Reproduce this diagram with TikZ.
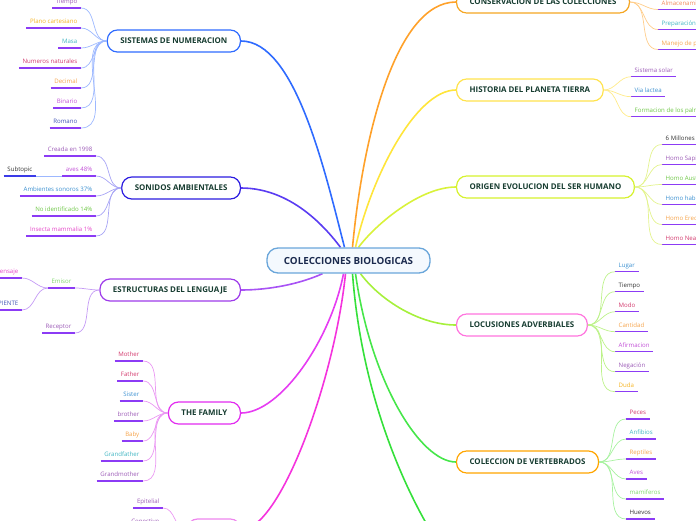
\documentclass[tikz,border=0pt]{standalone}
\usepackage{fontspec}
\setmainfont{Open Sans}
\usetikzlibrary{positioning}
\pgfdeclarelayer{background}
\pgfsetlayers{background,main}

\definecolor{rootline}{HTML}{6AA6DA}
\definecolor{rootfill}{HTML}{F4F9FE}
\definecolor{roottext}{HTML}{1B2A4E}
\definecolor{topictext}{HTML}{163C30}
\definecolor{uline}{HTML}{8C3BF5}
\definecolor{subblue}{HTML}{3B3BE8}
% branch colours
\definecolor{numbox}{HTML}{2F6BFF}   \definecolor{numtwig}{HTML}{9DB8FF}
\definecolor{sonbox}{HTML}{2B1BE0}   \definecolor{sonline}{HTML}{5A3CF2} \definecolor{sontwig}{HTML}{A7A4F5}
\definecolor{estbox}{HTML}{9E3BEA}   \definecolor{estline}{HTML}{A853F5} \definecolor{esttwig}{HTML}{C59BF5}
\definecolor{fambox}{HTML}{E22BF0}   \definecolor{famline}{HTML}{E63CF2} \definecolor{famtwig}{HTML}{EA98F3}
\definecolor{tejbox}{HTML}{EE86EE}   \definecolor{tejline}{HTML}{F533DD}
\definecolor{conbox}{HTML}{F5A623}   \definecolor{conline}{HTML}{FFA12A} \definecolor{contwig}{HTML}{FFCD8A}
\definecolor{hisbox}{HTML}{FFE34D}   \definecolor{hisline}{HTML}{FFE53B} \definecolor{histwig}{HTML}{FFEB8A}
\definecolor{oribox}{HTML}{D6F22E}   \definecolor{oriline}{HTML}{D9F23A} \definecolor{oritwig}{HTML}{E3F38E}
\definecolor{locbox}{HTML}{FF74DE}   \definecolor{locline}{HTML}{A6F03C} \definecolor{loctwig}{HTML}{BDF28A}
\definecolor{verbox}{HTML}{FFA500}   \definecolor{verline}{HTML}{46E64A} \definecolor{vertwig}{HTML}{A8F2A0}
\definecolor{botline}{HTML}{35E03A}
% leaf text colours
\definecolor{tpurple}{HTML}{9B59B6}
\definecolor{tyellow}{HTML}{F5B31F}
\definecolor{tteal}{HTML}{3FB5C2}
\definecolor{tcrimson}{HTML}{D2386C}
\definecolor{torange}{HTML}{F5A34A}
\definecolor{tsalmon}{HTML}{F08A5D}
\definecolor{tmagenta}{HTML}{C14FD6}
\definecolor{tblue}{HTML}{3F51B5}
\definecolor{tsteel}{HTML}{3A8FD0}
\definecolor{tgreen}{HTML}{6CC644}
\definecolor{tpink}{HTML}{E546C8}
\definecolor{tdark}{HTML}{333333}
\definecolor{tlgreen}{HTML}{7DD96A}

\tikzset{
  root/.style={draw=rootline, fill=rootfill, line width=1.3pt, rounded corners=11pt,
    minimum width=163pt, minimum height=25pt, text=roottext,
    font=\fontsize{9.8}{11}\selectfont\bfseries},
  topic/.style={draw, fill=white, line width=1.2pt, rounded corners=10pt,
    minimum height=22pt, inner xsep=13pt, text=topictext,
    font=\fontsize{7.9}{9}\selectfont\bfseries},
  underl/.style={append after command={(\tikzlastnode.south west)
    edge[draw=#1, line width=1.3pt] (\tikzlastnode.south east)}},
  leafbase/.style={inner xsep=3.5pt, inner ysep=2.6pt, text height=4.8pt,
    text depth=1.4pt, font=\fontsize{6.1}{7}\selectfont},
  leafL/.style={leafbase, anchor=south east, underl=uline},
  leafR/.style={leafbase, anchor=south west, underl=uline},
  branch/.style={line width=1.6pt},
  twig/.style={line width=0.7pt},
}

\begin{document}
\begin{tikzpicture}[x=1pt, y=-1pt]
  \useasboundingbox (0,0) rectangle (696,520);
  \clip (0,0) rectangle (696,520);

  \node[root] (root) at (348.5,260.5) {COLECCIONES BIOLOGICAS};

  \node[topic, draw=numbox, anchor=east] (sistemas) at (241,41) {SISTEMAS DE NUMERACION};
  \node[topic, draw=sonbox, anchor=east] (sonidos) at (241,188) {SONIDOS AMBIENTALES};
  \node[topic, draw=estbox, anchor=east] (estructuras) at (241,290) {ESTRUCTURAS DEL LENGUAJE};
  \node[topic, draw=fambox, anchor=east] (family) at (241,413) {THE FAMILY};
  \node[topic, draw=tejbox, anchor=east, minimum width=53pt] (tejidos) at (241,530) {};
  \node[topic, draw=conbox, anchor=west] (conservacion) at (456,2) {CONSERVACION DE LAS COLECCIONES};
  \node[topic, draw=hisbox, anchor=west] (historia) at (456,90) {HISTORIA DEL PLANETA TIERRA};
  \node[topic, draw=oribox, anchor=west] (origen) at (456,187) {ORIGEN EVOLUCION DEL SER HUMANO};
  \node[topic, draw=locbox, anchor=west] (locusiones) at (456,325) {LOCUSIONES ADVERBIALES};
  \node[topic, draw=verbox, anchor=west] (vertebrados) at (456,462) {COLECCION DE VERTEBRADOS};
  \coordinate (offbottom) at (430,530);

  \begin{pgfonlayer}{background}
  \draw[branch, numbox] ([xshift=-4pt]root.north) .. controls +(-20,-78) and +(54,0) .. (sistemas.east);
  \draw[branch, sonline] ([xshift=-8pt]root.north) .. controls +(-15,-20) and +(50,0) .. (sonidos.east);
  \draw[branch, conline] ([xshift=4pt]root.north) .. controls +(10,-108) and +(-61,0) .. (conservacion.west);
  \draw[branch, hisline] ([xshift=7pt]root.north) .. controls +(15,-68) and +(-41,0) .. (historia.west);
  \draw[branch, oriline] ([xshift=10pt]root.north) .. controls +(17,-23) and +(-36,0) .. (origen.west);
  \draw[branch, estline] ([xshift=-26pt]root.south) .. controls +(-22,10) and +(29,0) .. (estructuras.east);
  \draw[branch, famline] ([xshift=-5pt]root.south) .. controls +(-13,67) and +(39,0) .. (family.east);
  \draw[branch, tejline] ([xshift=-3pt]root.south) .. controls +(-11,107) and +(39,0) .. (tejidos.east);
  \draw[branch, locline] ([xshift=12pt]root.south) .. controls +(20,27) and +(-36,0) .. (locusiones.west);
  \draw[branch, verline] ([xshift=7pt]root.south) .. controls +(15,107) and +(-36,0) .. (vertebrados.west);
  \draw[branch, botline] ([xshift=4pt]root.south) .. controls +(8,107) and +(-35,-60) .. (offbottom);
  \end{pgfonlayer}

  % SISTEMAS DE NUMERACION
  \foreach \n/\t/\c [count=\i from 0] in {tiempoa/Tiempo/tpurple,
      plano/Plano cartesiano/tyellow, masa/Masa/tteal,
      numnat/Numeros naturales/tcrimson, decimal/Decimal/torange,
      binario/Binario/tmagenta, romano/Romano/tblue}{
    \node[leafL, text=\c] (\n) at (81,8+20*\i) {\t};
    \draw[twig, numtwig] (sistemas.west) to[out=180, in=0] (\n.south east);
  }

  % SONIDOS AMBIENTALES
  \foreach \n/\t/\c [count=\i from 0] in {creada/Creada en 1998/tpurple,
      avesp/aves 48\%/tmagenta, ambsono/Ambientes sonoros 37\%/tsteel,
      noident/No identificado 14\%/tgreen, insecta/Insecta mammalia 1\%/tpink}{
    \node[leafL, text=\c] (\n) at (96,156+20*\i) {\t};
    \draw[twig, sontwig] (sonidos.west) to[out=180, in=0] (\n.south east);
  }
  \node[leafbase, anchor=south east, underl=subblue, text=tdark] (subtopic) at (36,176) {Subtopic};
  \draw[twig, numtwig] (avesp.south west) -- (subtopic.south east);

  % ESTRUCTURAS DEL LENGUAJE
  \node[leafL, text=tlgreen] (emisor) at (75,288) {Emisor};
  \node[leafL, text=tpurple] (receptor) at (75,333) {Receptor};
  \node[leafL, text=tpink] (mensaje) at (22,278) {Mensaje};
  \node[leafL, text=tblue] (recipiente) at (22,310) {RECIPIENTE};
  \draw[twig, esttwig] (estructuras.west) to[out=180, in=0] (emisor.south east);
  \draw[twig, esttwig] (estructuras.west) to[out=180, in=0] (receptor.south east);
  \draw[twig, esttwig] (emisor.south west) to[out=180, in=0] (mensaje.south east);
  \draw[twig, esttwig] (emisor.south west) to[out=180, in=0] (recipiente.south east);

  % THE FAMILY
  \foreach \n/\t/\c [count=\i from 0] in {mother/Mother/tcrimson,
      father/Father/tcrimson, sister/Sister/tsteel, brother/brother/tpurple,
      baby/Baby/torange, grandfather/Grandfather/tteal,
      grandmother/Grandmother/tpurple}{
    \node[leafL, text=\c] (\n) at (143,361+20*\i) {\t};
    \draw[twig, famtwig] (family.west) to[out=180, in=0] (\n.south east);
  }

  % bottom branch
  \node[leafL, text=tpurple] (epitelial) at (163,508) {Epitelial};
  \node[leafL, text=tpurple] (conectivo) at (163,528) {Conectivo};
  \draw[twig, famtwig] (tejidos.west) to[out=180, in=0] (epitelial.south east);
  \draw[twig, famtwig] (tejidos.west) to[out=180, in=0] (conectivo.south east);

  % CONSERVACION DE LAS COLECCIONES
  \foreach \n/\t/\c [count=\i from 0] in {almacen/Almacenamiento/tsalmon,
      prepara/Preparación/tteal, manejo/Manejo de plagas/torange}{
    \node[leafR, text=\c] (\n) at (658,9.5+20*\i) {\t};
    \draw[twig, contwig] (conservacion.east) to[out=0, in=180] (\n.south west);
  }

  % HISTORIA DEL PLANETA TIERRA
  \foreach \n/\t/\c [count=\i from 0] in {solar/Sistema solar/tpurple,
      lactea/Via lactea/tsteel, formacion/Formacion de los palnetas/tgreen}{
    \node[leafR, text=\c] (\n) at (631,76.7+20*\i) {\t};
    \draw[twig, histwig] (historia.east) to[out=0, in=180] (\n.south west);
  }

  % ORIGEN EVOLUCION DEL SER HUMANO
  \foreach \n/\t/\c [count=\i from 0] in {millones/6 Millones de años/tdark,
      sapiens/Homo Sapiens/tpurple, austral/Homo Australopithecus/tgreen,
      habilis/Homo habilis/tsteel, erectus/Homo Erectus/torange,
      neander/Homo Neanderthalensis/tcrimson}{
    \node[leafR, text=\c] (\n) at (662,144.5+20*\i) {\t};
    \draw[twig, oritwig] (origen.east) to[out=0, in=180] (\n.south west);
  }

  % LOCUSIONES ADVERBIALES
  \foreach \n/\t/\c [count=\i from 0] in {lugar/Lugar/tsteel,
      tiempob/Tiempo/tdark, modo/Modo/tcrimson, cantidad/Cantidad/torange,
      afirma/Afirmacion/tmagenta, negacion/Negación/tpurple, duda/Duda/tyellow}{
    \node[leafR, text=\c] (\n) at (615,271.7+20*\i) {\t};
    \draw[twig, loctwig] (locusiones.east) to[out=0, in=180] (\n.south west);
  }

  % COLECCION DE VERTEBRADOS
  \foreach \n/\t/\c [count=\i from 0] in {peces/Peces/tcrimson,
      anfibios/Anfibios/tteal, reptiles/Reptiles/torange, avesv/Aves/tmagenta,
      mamiferos/mamiferos/tlgreen, huevos/Huevos/tdark}{
    \node[leafR, text=\c] (\n) at (626,419+20*\i) {\t};
    \draw[twig, vertwig] (vertebrados.east) to[out=0, in=180] (\n.south west);
  }
\end{tikzpicture}
\end{document}
